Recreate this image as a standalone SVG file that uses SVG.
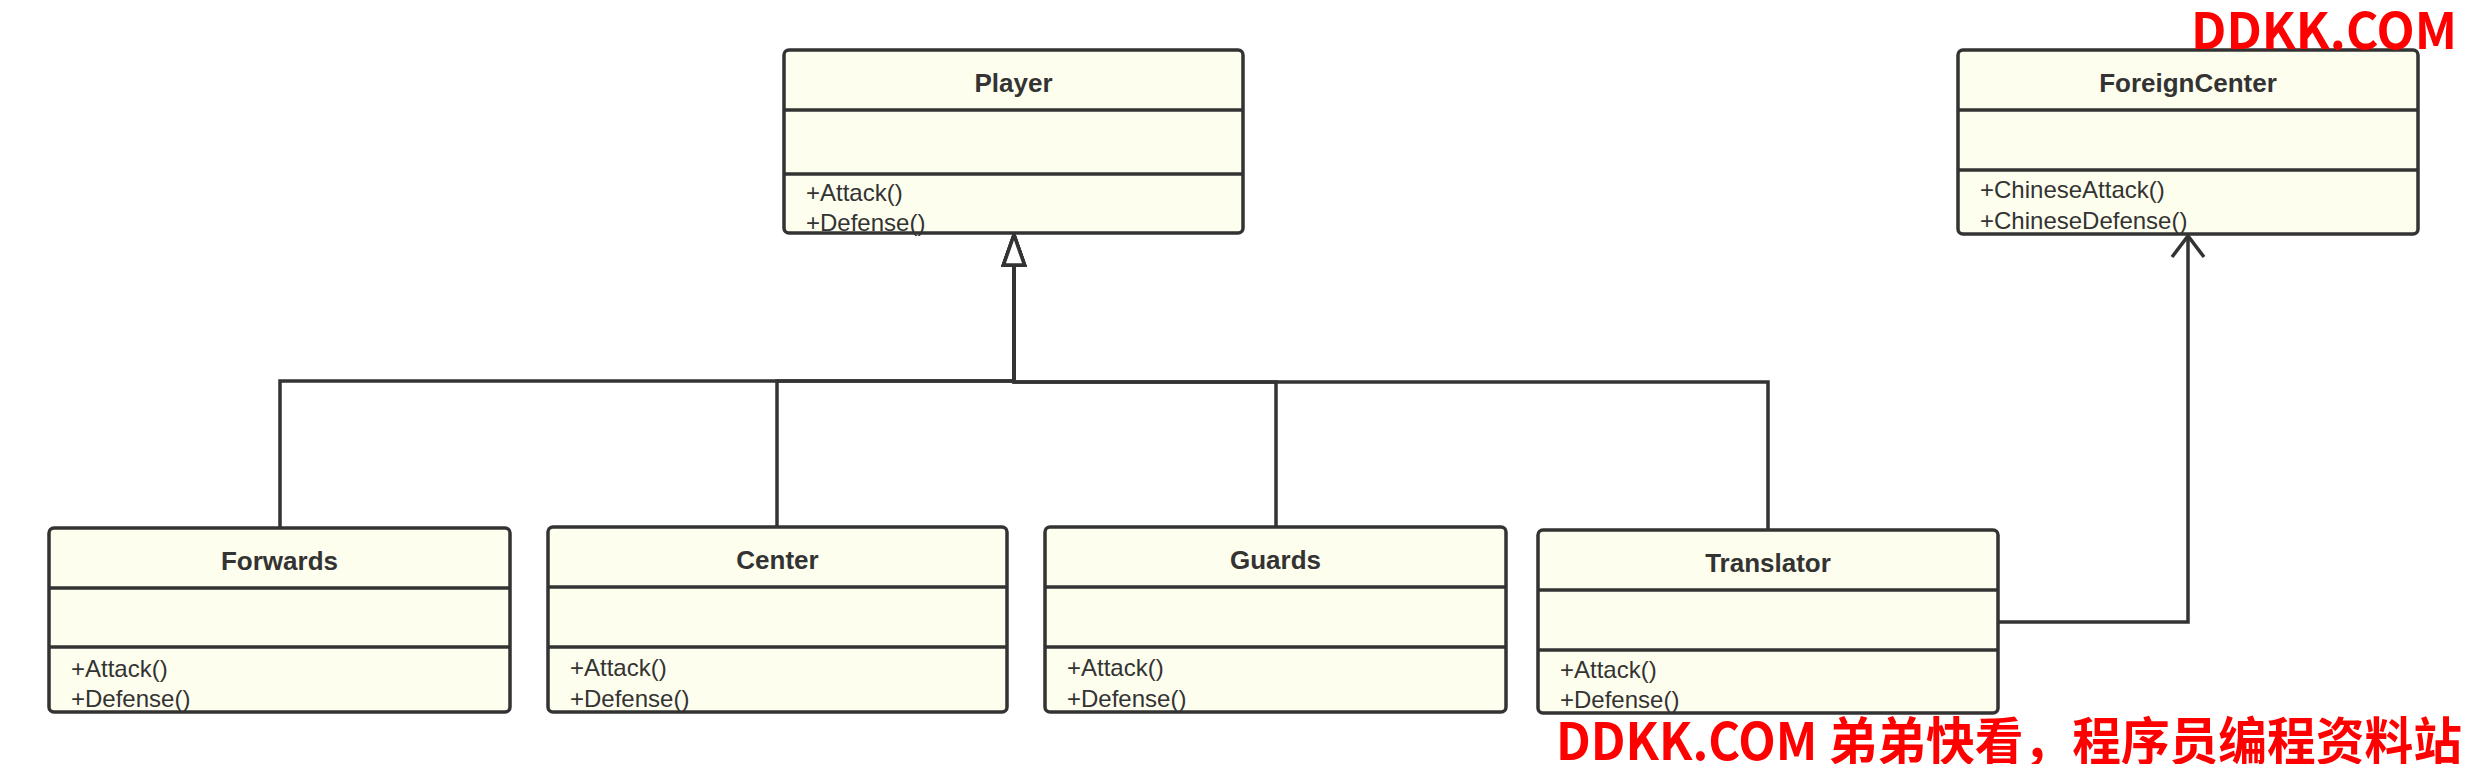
<svg xmlns="http://www.w3.org/2000/svg" width="2468" height="764" viewBox="0 0 2468 764">
<style>
.box{fill:#fefeee;stroke:none}
.border{fill:none;stroke:#333333;stroke-width:3.5}
.div{stroke:#333333;stroke-width:3.5}
.title{font-family:"Liberation Sans",Arial,sans-serif;font-size:26px;font-weight:bold;fill:#333333;text-anchor:middle}
.m{font-family:"Liberation Sans",Arial,sans-serif;font-size:24px;fill:#333333}
.conn{fill:none;stroke:#333333;stroke-width:3.5}
.wm{font-family:"Noto Sans CJK SC","Noto Sans",sans-serif;font-weight:bold;fill:#ff0000}
</style>
<defs>
<marker id="gen" markerUnits="userSpaceOnUse" orient="auto" refX="0" refY="0" markerWidth="40" markerHeight="30" overflow="visible">
<path d="M30,0 L0,-10.5 L0,10.5 Z" fill="#ffffff" stroke="#333333" stroke-width="3.5" stroke-linejoin="miter"/>
</marker>
<marker id="open" markerUnits="userSpaceOnUse" orient="auto" refX="0" refY="0" markerWidth="40" markerHeight="40" overflow="visible">
<path d="M-21,-16 L0,0 L-21,16" fill="none" stroke="#333333" stroke-width="3.5"/>
</marker>
</defs>
<rect width="2468" height="764" fill="#ffffff"/>

<g id="connectors">
<path class="conn" d="M280,528 V381 H1014 V265" marker-end="url(#gen)"/>
<path class="conn" d="M777,527 V381 H1014 V265" marker-end="url(#gen)"/>
<path class="conn" d="M1276,527 V382 H1014 V265" marker-end="url(#gen)"/>
<path class="conn" d="M1768,530 V382 H1014 V265" marker-end="url(#gen)"/>
<path class="conn" d="M1998,622 H2188 V236" marker-end="url(#open)"/>
</g>

<g id="player">
<rect class="box" x="784" y="50" width="459" height="183" rx="5"/>
<text class="title" x="1013.5" y="92">Player</text>
<text class="m" x="806" y="201">+Attack()</text>
<text class="m" x="806" y="231">+Defense()</text>
<line class="div" x1="784" y1="110" x2="1243" y2="110"/>
<line class="div" x1="784" y1="174" x2="1243" y2="174"/>
<rect class="border" x="784" y="50" width="459" height="183" rx="5"/>
</g>

<g id="foreigncenter">
<rect class="box" x="1958" y="50" width="460" height="184" rx="5"/>
<text class="title" x="2188" y="92">ForeignCenter</text>
<text class="m" x="1980" y="198">+ChineseAttack()</text>
<text class="m" x="1980" y="229">+ChineseDefense()</text>
<line class="div" x1="1958" y1="110" x2="2418" y2="110"/>
<line class="div" x1="1958" y1="170" x2="2418" y2="170"/>
<rect class="border" x="1958" y="50" width="460" height="184" rx="5"/>
</g>

<g id="forwards">
<rect class="box" x="49" y="528" width="461" height="184" rx="5"/>
<text class="title" x="279.5" y="570">Forwards</text>
<text class="m" x="71" y="677">+Attack()</text>
<text class="m" x="71" y="707">+Defense()</text>
<line class="div" x1="49" y1="588" x2="510" y2="588"/>
<line class="div" x1="49" y1="647" x2="510" y2="647"/>
<rect class="border" x="49" y="528" width="461" height="184" rx="5"/>
</g>

<g id="center">
<rect class="box" x="548" y="527" width="459" height="185" rx="5"/>
<text class="title" x="777.5" y="569">Center</text>
<text class="m" x="570" y="676">+Attack()</text>
<text class="m" x="570" y="707">+Defense()</text>
<line class="div" x1="548" y1="587" x2="1007" y2="587"/>
<line class="div" x1="548" y1="647" x2="1007" y2="647"/>
<rect class="border" x="548" y="527" width="459" height="185" rx="5"/>
</g>

<g id="guards">
<rect class="box" x="1045" y="527" width="461" height="185" rx="5"/>
<text class="title" x="1275.5" y="569">Guards</text>
<text class="m" x="1067" y="676">+Attack()</text>
<text class="m" x="1067" y="707">+Defense()</text>
<line class="div" x1="1045" y1="587" x2="1506" y2="587"/>
<line class="div" x1="1045" y1="647" x2="1506" y2="647"/>
<rect class="border" x="1045" y="527" width="461" height="185" rx="5"/>
</g>

<g id="translator">
<rect class="box" x="1538" y="530" width="460" height="183" rx="5"/>
<text class="title" x="1768" y="572">Translator</text>
<text class="m" x="1560" y="678">+Attack()</text>
<text class="m" x="1560" y="708">+Defense()</text>
<line class="div" x1="1538" y1="590" x2="1998" y2="590"/>
<line class="div" x1="1538" y1="650" x2="1998" y2="650"/>
<rect class="border" x="1538" y="530" width="460" height="183" rx="5"/>
</g>

<g id="watermarks">
<text class="wm" x="2191" y="49" font-size="50" textLength="266" lengthAdjust="spacingAndGlyphs">DDKK.COM</text>
<text class="wm" x="1556" y="760" font-size="51" textLength="906" lengthAdjust="spacingAndGlyphs">DDKK.COM 弟弟快看，程序员编程资料站</text>
</g>
</svg>
